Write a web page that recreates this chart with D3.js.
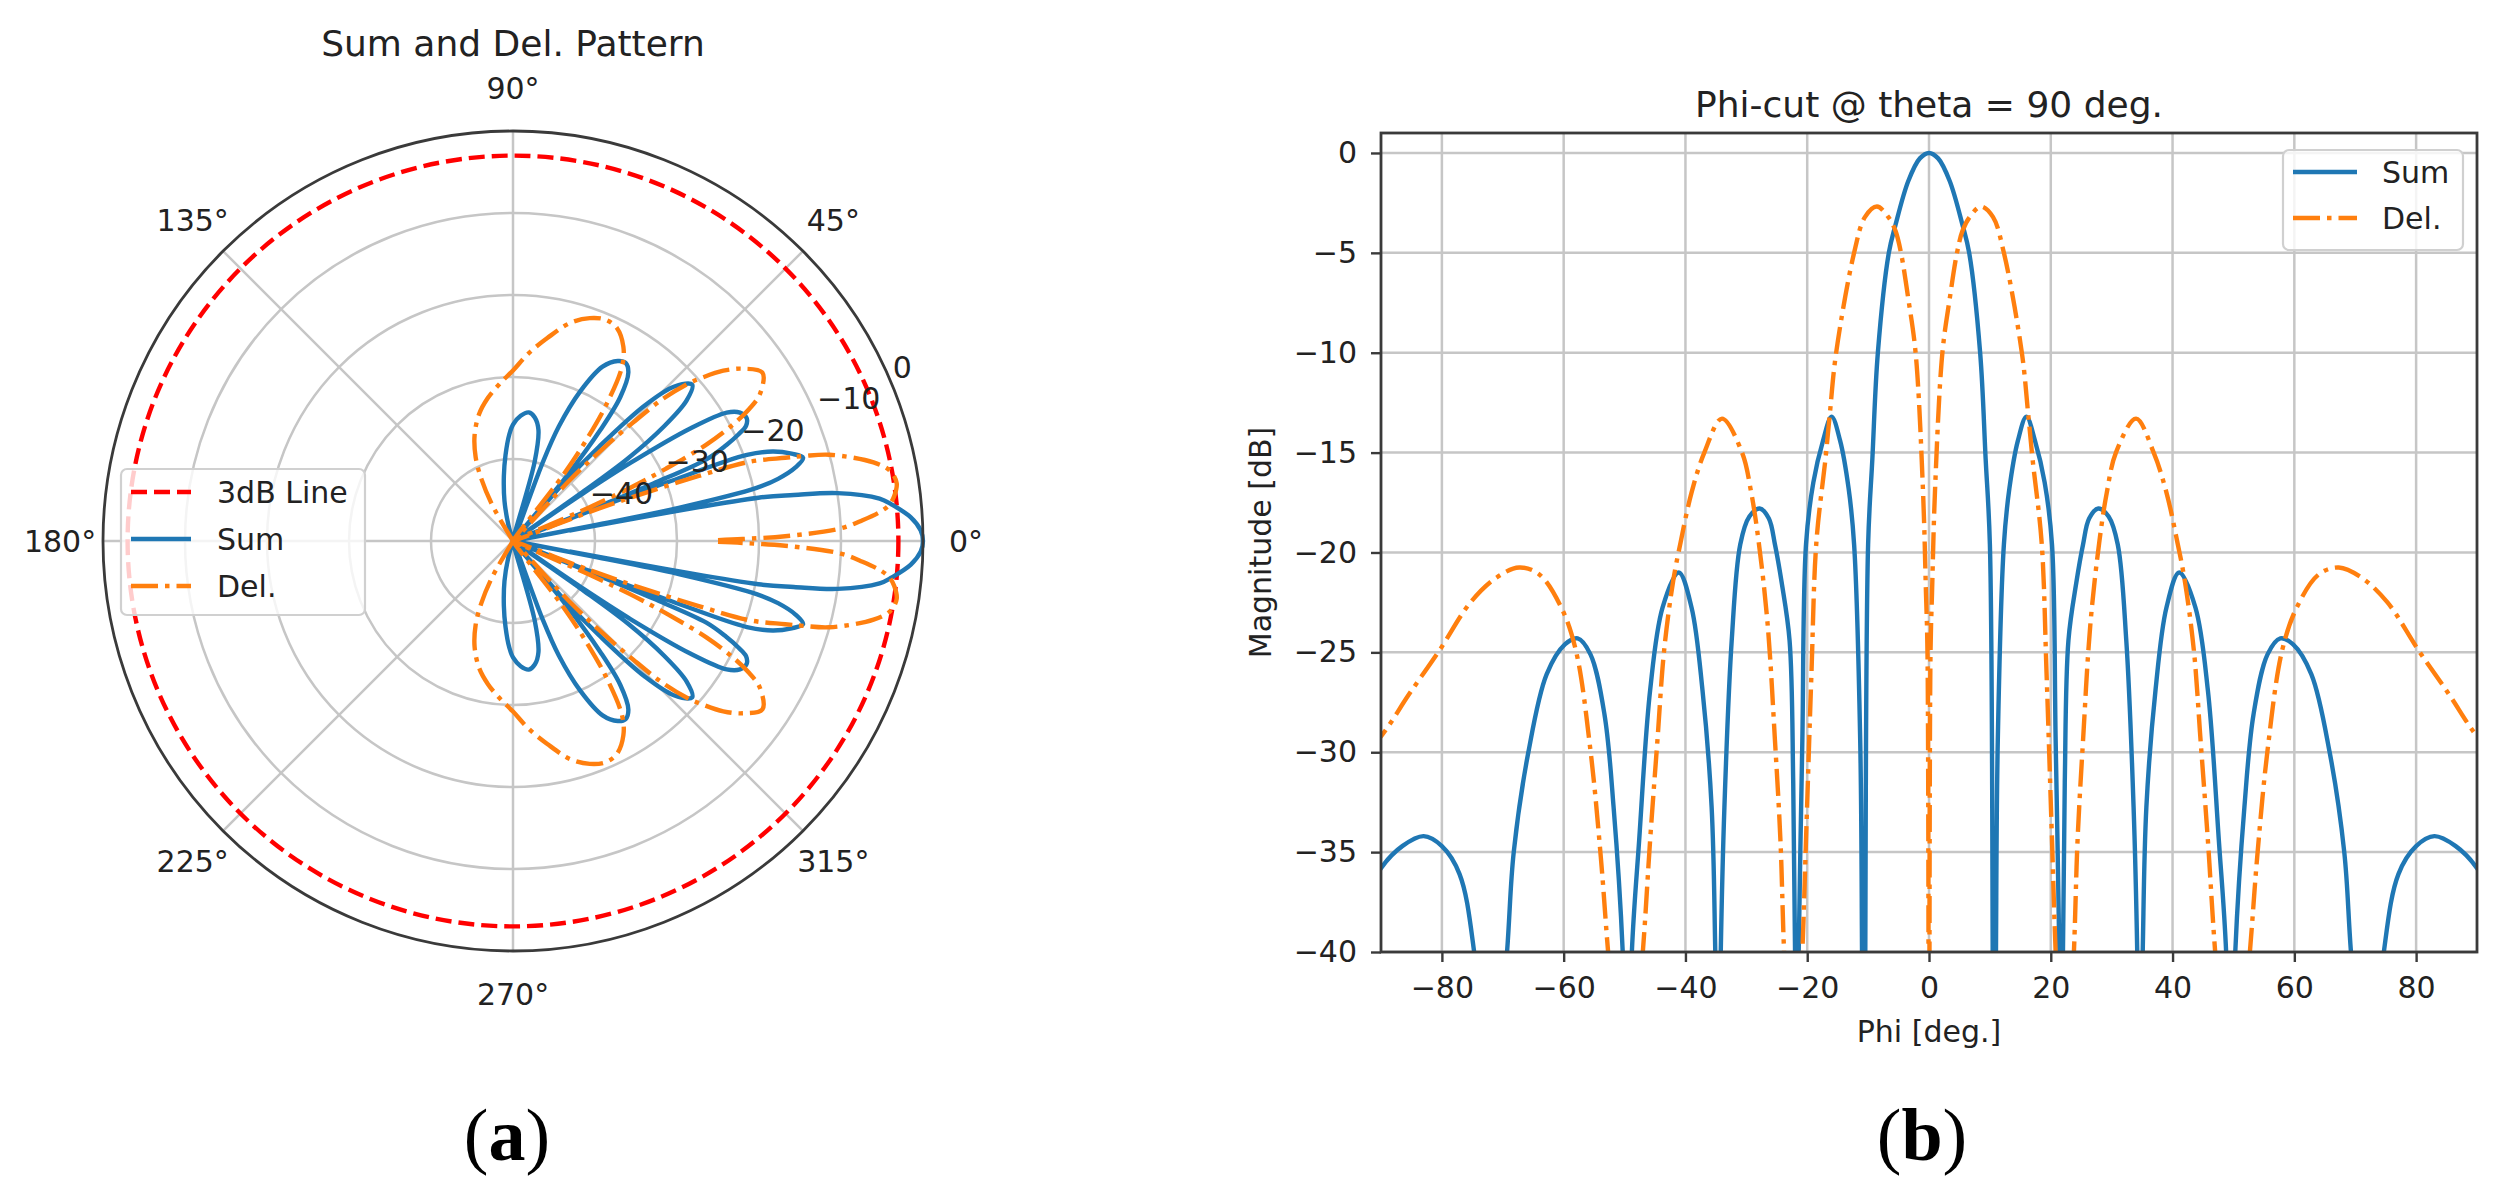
<!DOCTYPE html>
<html><head><meta charset="utf-8">
<script src="https://cdn.jsdelivr.net/npm/d3@7"></script>
<style>body{margin:0;background:#fff}svg{display:block}</style>
</head><body>
<svg id="c" width="2496" height="1189"></svg>
<script>
// ---------------- data ----------------
const sumPhi = [-110,-106,-102,-98,-95,-92,-90,-86.5,-83,-80,-77.1,-74.7,-72,-69.3,-68.2,-65.8,-62.8,-59.8,-57.7,-55.6,-53.3,-51.8,-50.3,-49.5,-48.8,-47.6,-45.8,-43.75,-41.1,-39,-37.2,-35.7,-35.1,-34.6,-34.2,-33.6,-32.4,-31,-29.5,-27.8,-26.3,-25.3,-24.2,-22.9,-22.3,-22,-21.75,-21.4,-20.8,-20.2,-19,-17.4,-16,-14.6,-13.2,-12.3,-11.3,-11,-10.85,-10.75,-10.5,-10,-9.3,-8.4,-6.6,-5.5,-3.4,-1.5,0,
  1.5,3.4,5.5,6.6,8.4,9.3,10,10.5,10.75,10.85,11,11.3,12.3,13.2,14.6,16,17.4,19,20.2,20.8,21.4,21.75,22,22.3,22.9,24.2,25.3,26.3,27.8,29.5,31,32.4,33.6,34.2,34.6,35.1,35.7,37.2,39,41.1,43.75,45.8,47.6,48.8,49.5,50.3,51.8,53.3,55.6,57.7,59.8,62.8,65.8,68.2,69.3,72,74.7,77.1,80,83,86.5,90,92,95,98,102,106,110];
const sumDb = [-50,-48,-45,-42,-39.5,-37,-35.8,-34.7,-34.2,-34.7,-36.1,-40,-50,-40,-35,-30,-26.1,-24.6,-24.3,-25.1,-28.1,-32.75,-40,-50,-40,-34.4,-26.9,-22.75,-21,-22.75,-26.9,-32.75,-40,-50,-40,-32.75,-24.4,-19.6,-18.2,-17.8,-18.3,-19.6,-21.5,-24.4,-31.5,-40,-50,-40,-29.4,-19.6,-16.5,-14.4,-13.2,-14.4,-16.8,-19.6,-29.4,-40,-50,-60,-43,-19.6,-15.3,-10,-5,-3.6,-1.4,-0.27,0,
  -0.27,-1.4,-3.6,-5,-10,-15.3,-19.6,-43,-60,-50,-40,-29.4,-19.6,-16.8,-14.4,-13.2,-14.4,-16.5,-19.6,-29.4,-40,-50,-40,-31.5,-24.4,-21.5,-19.6,-18.3,-17.8,-18.2,-19.6,-24.4,-32.75,-40,-50,-40,-32.75,-26.9,-22.75,-21,-22.75,-26.9,-34.4,-40,-50,-40,-32.75,-28.1,-25.1,-24.3,-24.6,-26.1,-30,-35,-40,-50,-40,-36.1,-34.7,-34.2,-34.7,-35.8,-37,-39.5,-42,-45,-48,-50];

const delPhi = [-123,-120,-117,-114,-110,-105,-100,-95,-90,-85.4,-80.4,-75.3,-71,-67.3,-64,-60.4,-58,-55.6,-53.9,-52.7,-49.8,-47,-45.8,-44.6,-43.5,-42,-40.8,-39,-36.9,-34,-30.7,-29.2,-28,-26.5,-25.3,-24.4,-23.8,-22.3,-20.8,-20.2,-19.3,-18.5,-17,-16.3,-15.25,-12.3,-10.5,-8.55,-6.7,-5.5,-4.6,-3.4,-2.2,-1,-0.5,-0.25,0,
  0.25,0.5,1,2.2,3.4,4.6,5.5,6.7,8.55,10.5,12.3,15.25,16.3,17,18.5,19.3,20.2,20.8,22.3,23.8,24.4,25.3,26.5,28,29.2,30.7,34,36.9,39,40.8,42,43.5,44.6,45.8,47,49.8,52.7,53.9,55.6,58,60.4,64,67.3,71,75.3,80.4,85.4,90,95,100,105,110,114,117,120,123];
const delDb = [-50,-45,-41.5,-38.8,-36.3,-34,-32.3,-30.8,-29.2,-27.1,-24.9,-22.5,-21.25,-20.75,-21.1,-22.75,-24.9,-29.9,-35.25,-40,-50,-40,-34.4,-29.4,-24.9,-21.4,-19.5,-17,-15,-13.3,-15,-17,-19.4,-23.6,-29.4,-34.4,-40,-50,-40,-34.4,-26,-19.5,-15.3,-13.1,-10,-5,-3.2,-2.68,-3.2,-3.9,-5,-7.3,-10,-16.8,-22,-25,-70,
  -25,-22,-16.8,-10,-7.3,-5,-3.9,-3.2,-2.68,-3.2,-5,-10,-13.1,-15.3,-19.5,-26,-34.4,-40,-50,-40,-34.4,-29.4,-23.6,-19.4,-17,-15,-13.3,-15,-17,-19.5,-21.4,-24.9,-29.4,-34.4,-40,-50,-40,-35.25,-29.9,-24.9,-22.75,-21.1,-20.75,-21.25,-22.5,-24.9,-27.1,-29.2,-30.8,-32.3,-34,-36.3,-38.8,-41.5,-45,-50];

const threeDbLevel = -3;
const xTicks = [-80,-60,-40,-20,0,20,40,60,80];
const yTicks = [0,-5,-10,-15,-20,-25,-30,-35,-40];
const rTicks = [-40,-30,-20,-10,0];
const thetaTicks = [0,45,90,135,180,225,270,315];
const polarLegend = ["3dB Line","Sum","Del."];
const lineLegend = ["Sum","Del."];

// ---------------- styles ----------------
const FONT = "DejaVu Sans";
const FS = 30, FT = 36;
const BLUE = "#1f77b4", ORANGE = "#ff7f0e", RED = "#ff0000";
const GRID = "#c6c6c6", GRIDW = 2.5, SPINE = "#3a3a3a", SPINEW = 2.8, TXT = "#222";
const LW = 4.4, DASHDOT = "27,7,4.5,7", DASHED = "16,7";

const sumData = sumPhi.map((p,i)=>[p,sumDb[i]]);
const delData = delPhi.map((p,i)=>[p,delDb[i]]);

const svg = d3.select("#c");
svg.append("rect").attr("width",2496).attr("height",1189).attr("fill","#fff");

// ================= (a) polar =================
const cx = 513, cy = 541, R = 410;
const rScale = d3.scaleLinear().domain([-50,0]).range([0,R]);
const toAng = phi => (90 - phi) * Math.PI / 180;
const gp = svg.append("g").attr("transform",`translate(${cx},${cy})`);

gp.selectAll("circle.ring").data(rTicks.filter(t=>t<0)).join("circle")
  .attr("r",d=>rScale(d)).attr("fill","none").attr("stroke",GRID).attr("stroke-width",GRIDW);
gp.selectAll("line.spoke").data(thetaTicks).join("line")
  .attr("x1",0).attr("y1",0)
  .attr("x2",d=>R*Math.cos(d*Math.PI/180)).attr("y2",d=>-R*Math.sin(d*Math.PI/180))
  .attr("stroke",GRID).attr("stroke-width",GRIDW);

// 3dB line
gp.append("circle").attr("r",rScale(threeDbLevel)).attr("fill","none")
  .attr("stroke",RED).attr("stroke-width",LW).attr("stroke-dasharray",DASHED);

const radial = d3.lineRadial()
  .angle(d=>toAng(d[0])).radius(d=>rScale(d[1]))
  .defined(d=>d[1] >= -50)
  .curve(d3.curveCatmullRom.alpha(0.5));
gp.append("path").attr("d",radial(sumData)).attr("fill","none").attr("stroke",BLUE).attr("stroke-width",LW).attr("stroke-linejoin","round");
gp.append("path").attr("d",radial(delData)).attr("fill","none").attr("stroke",ORANGE).attr("stroke-width",LW).attr("stroke-dasharray",DASHDOT);

// outer spine
gp.append("circle").attr("r",R).attr("fill","none").attr("stroke",SPINE).attr("stroke-width",SPINEW);

// theta labels
gp.selectAll("text.th").data(thetaTicks).join("text")
  .attr("x",d=>453*Math.cos(d*Math.PI/180)).attr("y",d=>-453*Math.sin(d*Math.PI/180))
  .attr("text-anchor","middle").attr("dominant-baseline","central")
  .attr("font-family",FONT).attr("font-size",FS).attr("fill",TXT)
  .text(d=>d+"°");

// r labels
const rlab = 22.5*Math.PI/180;
gp.selectAll("text.rl").data(rTicks).join("text")
  .attr("x",d=>rScale(d)*Math.cos(rlab)+1).attr("y",d=>-rScale(d)*Math.sin(rlab)-6)
  .attr("font-family",FONT).attr("font-size",FS).attr("fill",TXT)
  .text(d=>d3.format("d")(d));

// title
svg.append("text").attr("x",cx).attr("y",43).attr("text-anchor","middle").attr("dominant-baseline","central")
  .attr("font-family",FONT).attr("font-size",FT).attr("fill",TXT).text("Sum and Del. Pattern");

// polar legend
const lg = svg.append("g").attr("transform","translate(121,469)");
lg.append("rect").attr("width",244).attr("height",146).attr("rx",6)
  .attr("fill","#fff").attr("fill-opacity",0.8).attr("stroke","#d0d0d0").attr("stroke-width",2.2);
const pStyles = [[RED,DASHED],[BLUE,null],[ORANGE,DASHDOT]];
polarLegend.forEach((name,i)=>{
  const yy = 23 + i*47;
  lg.append("line").attr("x1",10).attr("x2",70).attr("y1",yy).attr("y2",yy)
    .attr("stroke",pStyles[i][0]).attr("stroke-width",LW).attr("stroke-dasharray",pStyles[i][1]);
  lg.append("text").attr("x",96).attr("y",yy).attr("dominant-baseline","central")
    .attr("font-family",FONT).attr("font-size",FS).attr("fill",TXT).text(name);
});

// ================= (b) cartesian =================
const x = d3.scaleLinear().domain([-90,90]).range([1381,2477]);
const y = d3.scaleLinear().domain([-40,1]).range([952,133]);
const gc = svg.append("g");

gc.selectAll("line.gx").data(xTicks).join("line")
  .attr("x1",d=>x(d)).attr("x2",d=>x(d)).attr("y1",y(1)).attr("y2",y(-40))
  .attr("stroke",GRID).attr("stroke-width",GRIDW);
gc.selectAll("line.gy").data(yTicks).join("line")
  .attr("y1",d=>y(d)).attr("y2",d=>y(d)).attr("x1",x(-90)).attr("x2",x(90))
  .attr("stroke",GRID).attr("stroke-width",GRIDW);

svg.append("defs").append("clipPath").attr("id","clipB").append("rect")
  .attr("x",x(-90)).attr("y",y(1)).attr("width",x(90)-x(-90)).attr("height",y(-40)-y(1));

const line = d3.line().x(d=>x(d[0])).y(d=>y(d[1])).curve(d3.curveCatmullRom.alpha(0.5));
const gd = gc.append("g").attr("clip-path","url(#clipB)");
gd.append("path").attr("d",line(sumData)).attr("fill","none").attr("stroke",BLUE).attr("stroke-width",LW).attr("stroke-linejoin","round");
gd.append("path").attr("d",line(delData)).attr("fill","none").attr("stroke",ORANGE).attr("stroke-width",LW).attr("stroke-dasharray",DASHDOT);

// axes
const ax = gc.append("g").attr("transform",`translate(0,${y(-40)})`)
  .call(d3.axisBottom(x).tickValues(xTicks).tickSize(10).tickPadding(15).tickSizeOuter(0));
const ay = gc.append("g").attr("transform",`translate(${x(-90)},0)`)
  .call(d3.axisLeft(y).tickValues(yTicks).tickSize(10).tickPadding(14).tickSizeOuter(0));
[ax,ay].forEach(a=>{
  a.select(".domain").remove();
  a.selectAll(".tick line").attr("stroke",SPINE).attr("stroke-width",2.4);
  a.selectAll(".tick text").attr("font-family",FONT).attr("font-size",FS).attr("fill",TXT);
});

gc.append("rect").attr("x",x(-90)).attr("y",y(1)).attr("width",x(90)-x(-90)).attr("height",y(-40)-y(1))
  .attr("fill","none").attr("stroke",SPINE).attr("stroke-width",SPINEW);

// labels
svg.append("text").attr("x",x(0)).attr("y",104).attr("text-anchor","middle").attr("dominant-baseline","central")
  .attr("font-family",FONT).attr("font-size",FT).attr("fill",TXT).text("Phi-cut @ theta = 90 deg.");
svg.append("text").attr("x",x(0)).attr("y",1031).attr("text-anchor","middle").attr("dominant-baseline","central")
  .attr("font-family",FONT).attr("font-size",FS).attr("fill",TXT).text("Phi [deg.]");
svg.append("text").attr("transform",`translate(1260,${(y(1)+y(-40))/2}) rotate(-90)`)
  .attr("text-anchor","middle").attr("dominant-baseline","central")
  .attr("font-family",FONT).attr("font-size",FS).attr("fill",TXT).text("Magnitude [dB]");

// legend (b)
const lb = svg.append("g").attr("transform","translate(2283,150)");
lb.append("rect").attr("width",180).attr("height",100).attr("rx",6)
  .attr("fill","#fff").attr("fill-opacity",0.8).attr("stroke","#d0d0d0").attr("stroke-width",2.2);
const lStyles = [[BLUE,null],[ORANGE,DASHDOT]];
lineLegend.forEach((name,i)=>{
  const yy = 22 + i*46;
  lb.append("line").attr("x1",10).attr("x2",74).attr("y1",yy).attr("y2",yy)
    .attr("stroke",lStyles[i][0]).attr("stroke-width",LW).attr("stroke-dasharray",lStyles[i][1]);
  lb.append("text").attr("x",99).attr("y",yy).attr("dominant-baseline","central")
    .attr("font-family",FONT).attr("font-size",FS).attr("fill",TXT).text(name);
});

// panel captions
[["a",507],["b",1922]].forEach(([l,xx])=>{
  const t = svg.append("text").attr("x",xx).attr("y",1135).attr("text-anchor","middle").attr("dominant-baseline","central")
    .attr("font-family","Liberation Serif").attr("font-size",74).attr("fill","#000");
  t.append("tspan").text("(");
  t.append("tspan").attr("font-weight","bold").text(l);
  t.append("tspan").text(")");
});
</script>
</body></html>
